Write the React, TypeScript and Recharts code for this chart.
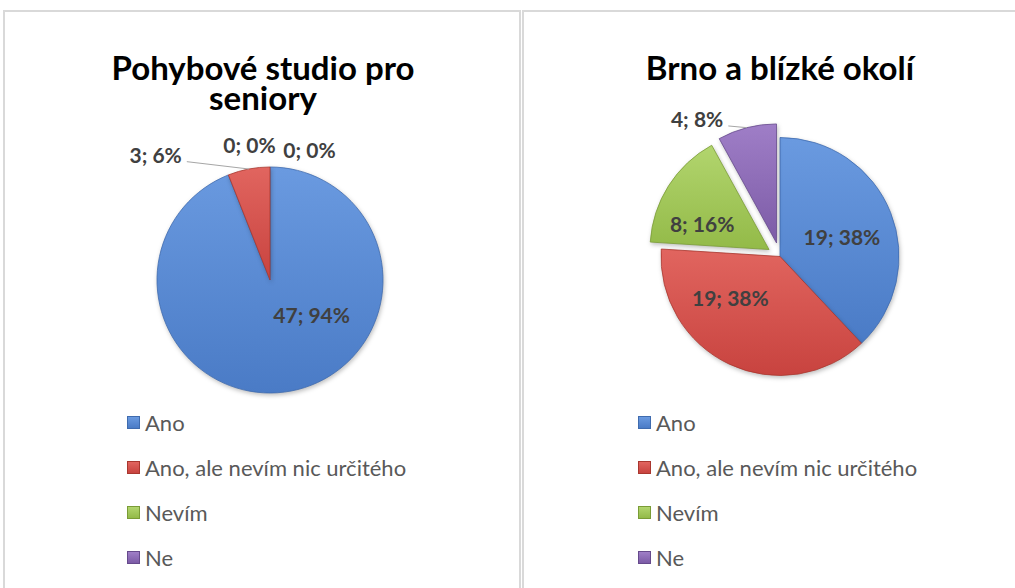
import React from "react";
import { PieChart, Pie, Cell, Legend } from "recharts";

// data
const categories = ["Ano", "Ano, ale nevím nic určitého", "Nevím", "Ne"];
const studioValues = [47, 3, 0, 0];
const brnoValues = [19, 19, 8, 4];
const chartTitles = ["Pohybové studio pro seniory", "Brno a blízké okolí"];

// styling
const GRAD = [
  { id: "gBlue", top: "#6A9AE0", bottom: "#4A7BC6", stroke: "#3F6BAE" },
  { id: "gRed", top: "#E1655F", bottom: "#C8433F", stroke: "#A9372F" },
  { id: "gGreen", top: "#B2D56E", bottom: "#93BA48", stroke: "#7A9C36" },
  { id: "gPurple", top: "#9F7EC7", bottom: "#7C5BA6", stroke: "#664A8C" },
];
const FONT = "Lato, 'Open Sans', sans-serif";
const RAD = Math.PI / 180;

// clockwise angle from 12 o'clock
const polar = (cx: number, cy: number, r: number, cw: number) => ({
  x: cx + r * Math.sin(cw * RAD),
  y: cy - r * Math.cos(cw * RAD),
});

type Placement = { angle: number; dist: number; leader?: boolean };

const studioLabels: Placement[] = [
  { angle: 129.8, dist: 0.48 },
  { angle: 324.9, dist: 1.28, leader: true },
  { angle: 351.4, dist: 1.21 },
  { angle: 16.8, dist: 1.21 },
];
const brnoLabels: Placement[] = [
  { angle: 72.1, dist: 0.547 },
  { angle: 230.6, dist: 0.54 },
  { angle: 292.9, dist: 0.71 },
  { angle: 338.4, dist: 1.18, leader: true },
];

interface PanelProps {
  title: string;
  values: number[];
  left: number;
  width: number;
  cx: number;
  cy: number;
  r: number;
  placements: Placement[];
  explode: number[];
  titleX: number;
  legendX: number;
}

const shadow = { filter: "drop-shadow(1px 2px 2px rgba(0,0,0,0.25))" };

const PiePanel: React.FC<PanelProps> = ({
  title,
  values,
  left,
  width,
  cx,
  cy,
  r,
  placements,
  explode,
  titleX,
  legendX,
}) => {
  const data = categories.map((name, i) => ({ name, value: values[i] }));
  const total = values.reduce((a, b) => a + b, 0);
  let acc = 0;
  const mids = values.map((v) => {
    const m = (360 * (acc + v / 2)) / total;
    acc += v;
    return m;
  });
  const explodedIdx = explode.map((e, i) => (e > 0 ? i : -1)).filter((i) => i >= 0);

  const renderLabel = (props: any) => {
    const i = props.index;
    const p = placements[i];
    const text = `${props.value}; ${Math.round(props.percent * 100)}%`;
    const mid = 90 - props.midAngle;
    const pos = polar(props.cx, props.cy, p.dist * props.outerRadius, p.angle);
    const common = {
      fontFamily: FONT,
      fontWeight: 700,
      fontSize: 21,
      fill: "#404040",
    };
    if (p.leader) {
      const c = polar(props.cx, props.cy, explode[i], mid);
      const end = polar(c.x, c.y, props.outerRadius, mid);
      return (
        <g key={`lbl-${i}`}>
          <path
            d={`M${pos.x},${pos.y}L${end.x},${end.y}`}
            stroke="#A6A6A6"
            strokeWidth={1}
            fill="none"
          />
          <text x={pos.x - 5} y={pos.y - 7} textAnchor="end" dominantBaseline="central" {...common}>
            {text}
          </text>
        </g>
      );
    }
    return (
      <text key={`lbl-${i}`} x={pos.x} y={pos.y} textAnchor="middle" dominantBaseline="central" {...common}>
        {text}
      </text>
    );
  };

  const renderLegend = () => (
    <div style={{ fontFamily: FONT, fontSize: 22, color: "#595959" }}>
      {categories.map((c, i) => (
        <div key={c} style={{ height: 45, display: "flex", alignItems: "center" }}>
          <span
            style={{
              display: "inline-block",
              width: 13,
              height: 13,
              boxSizing: "border-box",
              border: `1px solid ${GRAD[i].stroke}`,
              background: `linear-gradient(to bottom, ${GRAD[i].top}, ${GRAD[i].bottom})`,
            }}
          />
          <span style={{ marginLeft: 5 }}>{c}</span>
        </div>
      ))}
    </div>
  );

  return (
    <div
      style={{
        position: "absolute",
        left,
        top: 10,
        width,
        height: 580,
        borderTop: "2px solid #D9D9D9",
        borderLeft: "2px solid #D9D9D9",
        borderRight: left < 10 ? "2px solid #D9D9D9" : "none",
        background: "#fff",
      }}
    >
      <div
        style={{
          position: "absolute",
          left: titleX - 180,
          top: 40,
          width: 360,
          textAlign: "center",
          fontFamily: FONT,
          fontWeight: 700,
          fontSize: 33,
          lineHeight: "30px",
          color: "#000",
        }}
      >
        {title}
      </div>
      <PieChart
        width={width}
        height={580}
        margin={{ top: 0, right: 0, bottom: 0, left: 0 }}
        style={{ position: "absolute", left: 0, top: 0 }}
      >
        <Pie
          data={data}
          dataKey="value"
          nameKey="name"
          cx={cx}
          cy={cy}
          outerRadius={r}
          startAngle={90}
          endAngle={-270}
          isAnimationActive={false}
          label={renderLabel}
          labelLine={false}
        >
          {data.map((d, i) => (
            <Cell
              key={`c-${i}`}
              fill={explode[i] > 0 || d.value === 0 ? "transparent" : `url(#${GRAD[i].id})`}
              stroke={explode[i] > 0 || d.value === 0 ? "none" : GRAD[i].stroke}
              strokeWidth={0.8}
              style={shadow}
            />
          ))}
        </Pie>
        {explodedIdx.map((k) => {
          const c = polar(cx, cy, explode[k], mids[k]);
          return (
            <Pie
              key={`ex-${k}`}
              data={data}
              dataKey="value"
              nameKey="name"
              cx={c.x}
              cy={c.y}
              outerRadius={r}
              startAngle={90}
              endAngle={-270}
              isAnimationActive={false}
              legendType="none"
              label={false}
              labelLine={false}
            >
              {data.map((d, i) => (
                <Cell
                  key={`e-${i}`}
                  fill={i === k ? `url(#${GRAD[i].id})` : "transparent"}
                  stroke={i === k ? GRAD[i].stroke : "none"}
                  strokeWidth={0.8}
                  style={i === k ? shadow : undefined}
                />
              ))}
            </Pie>
          );
        })}
        <Legend
          layout="horizontal"
          verticalAlign="bottom"
          align="left"
          content={renderLegend}
          wrapperStyle={{ left: legendX, top: 388, bottom: "auto", width: 360 }}
        />
      </PieChart>
    </div>
  );
}

export default function App() {
  return (
    <div style={{ position: "absolute", left: 0, top: 0, width: 1015, height: 588, background: "#fff", overflow: "hidden" }}>
      <svg width={0} height={0} style={{ position: "absolute" }}>
        <defs>
          {GRAD.map((g) => (
            <linearGradient key={g.id} id={g.id} x1="0" y1="0" x2="0" y2="1">
              <stop offset="0%" stopColor={g.top} />
              <stop offset="100%" stopColor={g.bottom} />
            </linearGradient>
          ))}
        </defs>
      </svg>
      <PiePanel
        title={chartTitles[0]}
        values={studioValues}
        left={3}
        width={514}
        cx={265}
        cy={268}
        r={113}
        placements={studioLabels}
        explode={[0, 0, 0, 0]}
        titleX={258}
        legendX={122}
      />
      <PiePanel
        title={chartTitles[1]}
        values={brnoValues}
        left={522}
        width={493}
        cx={256}
        cy={244.5}
        r={119}
        placements={brnoLabels}
        explode={[0, 0, 13, 14]}
        titleX={256}
        legendX={114}
      />
    </div>
  );
}
